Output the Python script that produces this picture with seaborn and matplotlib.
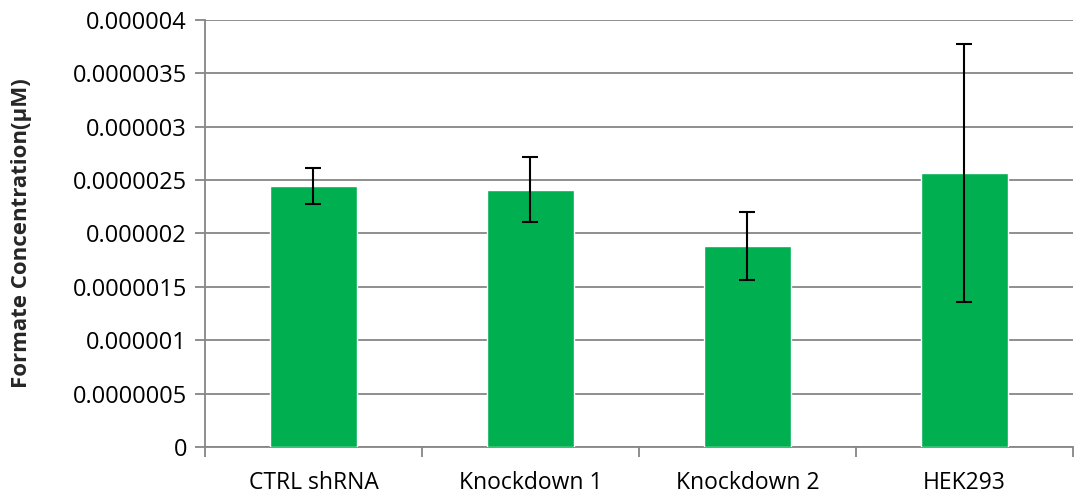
import matplotlib
matplotlib.use("Agg")
import matplotlib.pyplot as plt
import seaborn as sns
import pandas as pd
from matplotlib.ticker import FixedLocator

categories = ["CTRL shRNA", "Knockdown 1", "Knockdown 2", "HEK293"]
values = [2.445e-6, 2.41e-6, 1.883e-6, 2.567e-6]
errors = [0.17e-6, 0.305e-6, 0.318e-6, 1.21e-6]
ytick_labels = ["0", "0.0000005", "0.000001", "0.0000015", "0.000002",
                "0.0000025", "0.000003", "0.0000035", "0.000004"]
ytick_values = [0, 0.5e-6, 1e-6, 1.5e-6, 2e-6, 2.5e-6, 3e-6, 3.5e-6, 4e-6]

sns.set_theme(style="white")
plt.rcParams["font.family"] = ["Open Sans", "DejaVu Sans"]

df = pd.DataFrame({"cat": categories, "val": values})

fig = plt.figure(figsize=(10.75, 4.96), dpi=100)
ax = fig.add_axes([0.1907, 0.0988, 0.8073, 0.8609])

grid_color = "#868686"
sns.barplot(data=df, x="cat", y="val", color="#00B050", saturation=1,
            width=0.4, errorbar=None, ax=ax, zorder=3)
ax.errorbar(range(len(categories)), values, yerr=errors, fmt="none",
            ecolor="black", elinewidth=1.5, capsize=6, capthick=1.5, zorder=4)

ax.set_xlim(-0.5, 3.5)
ax.set_ylim(0, 4e-6)
ax.set_yticks(ytick_values)
ax.set_yticklabels(ytick_labels, fontsize=17, color="black")
ax.yaxis.grid(True, color=grid_color, linewidth=1.3, zorder=0)
ax.set_axisbelow(True)

ax.set_xticks(range(len(categories)))
ax.set_xticklabels(categories, fontsize=16.5, color="black")
ax.xaxis.set_minor_locator(FixedLocator([-0.5, 0.5, 1.5, 2.5, 3.5]))
ax.tick_params(axis="x", which="major", length=0, pad=17)
ax.tick_params(axis="x", which="minor", length=7, width=1.3, color=grid_color, direction="out", bottom=True)
ax.tick_params(axis="y", which="major", length=7, width=1.3, color=grid_color, direction="out", left=True, pad=6)

for s in ["top", "right"]:
    ax.spines[s].set_visible(False)
for s in ["left", "bottom"]:
    ax.spines[s].set_color(grid_color)
    ax.spines[s].set_linewidth(1.3)

ax.set_xlabel("")
ax.set_ylabel("Formate Concentration(μM)", fontsize=16, fontweight="bold", labelpad=29)

fig.savefig("out.png", dpi=100)
